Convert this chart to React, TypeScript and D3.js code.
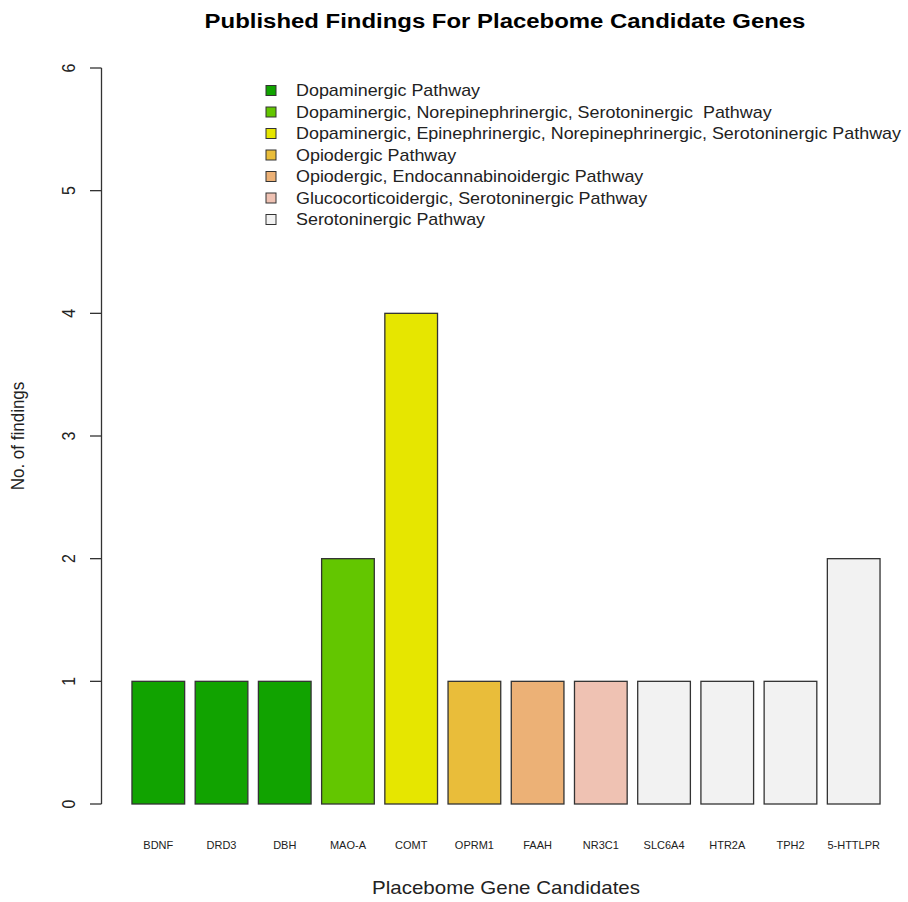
import React from "react";
import * as d3 from "d3";

const genes = ["BDNF", "DRD3", "DBH", "MAO-A", "COMT", "OPRM1", "FAAH", "NR3C1", "SLC6A4", "HTR2A", "TPH2", "5-HTTLPR"];
const findings = [1, 1, 1, 2, 4, 1, 1, 1, 1, 1, 1, 2];
const geneGroup = [0, 0, 0, 1, 2, 3, 4, 5, 6, 6, 6, 6];
const pathways = [
  "Dopaminergic Pathway",
  "Dopaminergic, Norepinephrinergic, Serotoninergic  Pathway",
  "Dopaminergic, Epinephrinergic, Norepinephrinergic, Serotoninergic Pathway",
  "Opiodergic Pathway",
  "Opiodergic, Endocannabinoidergic Pathway",
  "Glucocorticoidergic, Serotoninergic Pathway",
  "Serotoninergic Pathway",
];
const pathwayColors = ["#11A300", "#63C600", "#E6E600", "#E9BD3A", "#ECB176", "#EFC2B3", "#F2F2F2"];
const yTicks = [0, 1, 2, 3, 4, 5, 6];

const W = 908;
const H = 902;
const FONT = "Liberation Sans, Arial, Helvetica, sans-serif";

function SText(props: {
  x: number;
  y: number;
  sx: number;
  rot?: number;
  anchor?: string;
  size: number;
  weight?: string;
  children: React.ReactNode;
}) {
  const rot = props.rot ? ` rotate(${props.rot})` : "";
  return (
    <g transform={`translate(${props.x},${props.y}) scale(${props.sx},1)${rot}`}>
      <text
        x={0}
        y={0}
        textAnchor={props.anchor || "start"}
        fontSize={props.size}
        fontWeight={props.weight || "normal"}
        fill={props.weight === "bold" ? "#000" : "#222"}
        style={{ whiteSpace: "pre" }}
      >
        {props.children}
      </text>
    </g>
  );
}

export default function App() {
  const y = d3.scaleLinear().domain([0, 6]).range([804, 68]);
  const x = d3
    .scaleBand<string>()
    .domain(genes)
    .range([126.7, 885.3])
    .paddingInner(1 / 6)
    .paddingOuter(1 / 12);

  return (
    <svg
      width={W}
      height={H}
      style={{ position: "absolute", left: 0, top: 0, background: "#fff" }}
      fontFamily={FONT}
    >
      <SText x={505} y={28} sx={1.14} anchor="middle" size={21} weight="bold">
        Published Findings For Placebome Candidate Genes
      </SText>

      {/* y axis */}
      <line x1={101.5} x2={101.5} y1={y(6)} y2={y(0)} stroke="#333" strokeWidth={1.3} />
      {yTicks.map((t) => (
        <g key={t}>
          <line x1={90} x2={101.5} y1={y(t)} y2={y(t)} stroke="#333" strokeWidth={1.3} />
          <SText x={75} y={y(t)} sx={1.13} rot={-90} anchor="middle" size={16}>
            {t}
          </SText>
        </g>
      ))}
      <SText x={24} y={436} sx={1.13} rot={-90} anchor="middle" size={17}>
        No. of findings
      </SText>

      {/* bars */}
      {genes.map((g, i) => (
        <rect
          key={g}
          x={x(g)}
          y={y(findings[i])}
          width={x.bandwidth()}
          height={y(0) - y(findings[i])}
          fill={pathwayColors[geneGroup[i]]}
          stroke="#333"
          strokeWidth={1.3}
        />
      ))}

      {/* gene labels */}
      {genes.map((g) => (
        <SText key={g} x={(x(g) ?? 0) + x.bandwidth() / 2} y={849} sx={1.1} anchor="middle" size={10}>
          {g}
        </SText>
      ))}
      <SText x={506} y={894} sx={1.14} anchor="middle" size={18}>
        Placebome Gene Candidates
      </SText>

      {/* legend */}
      {pathways.map((p, i) => {
        const cy = 90.5 + i * 21.5;
        return (
          <g key={p}>
            <rect x={266} y={cy - 5} width={10} height={10} fill={pathwayColors[i]} stroke="#333" strokeWidth={1} />
            <SText x={296} y={cy + 5.5} sx={1.12} size={16}>
              {p}
            </SText>
          </g>
        );
      })}
    </svg>
  );
}
